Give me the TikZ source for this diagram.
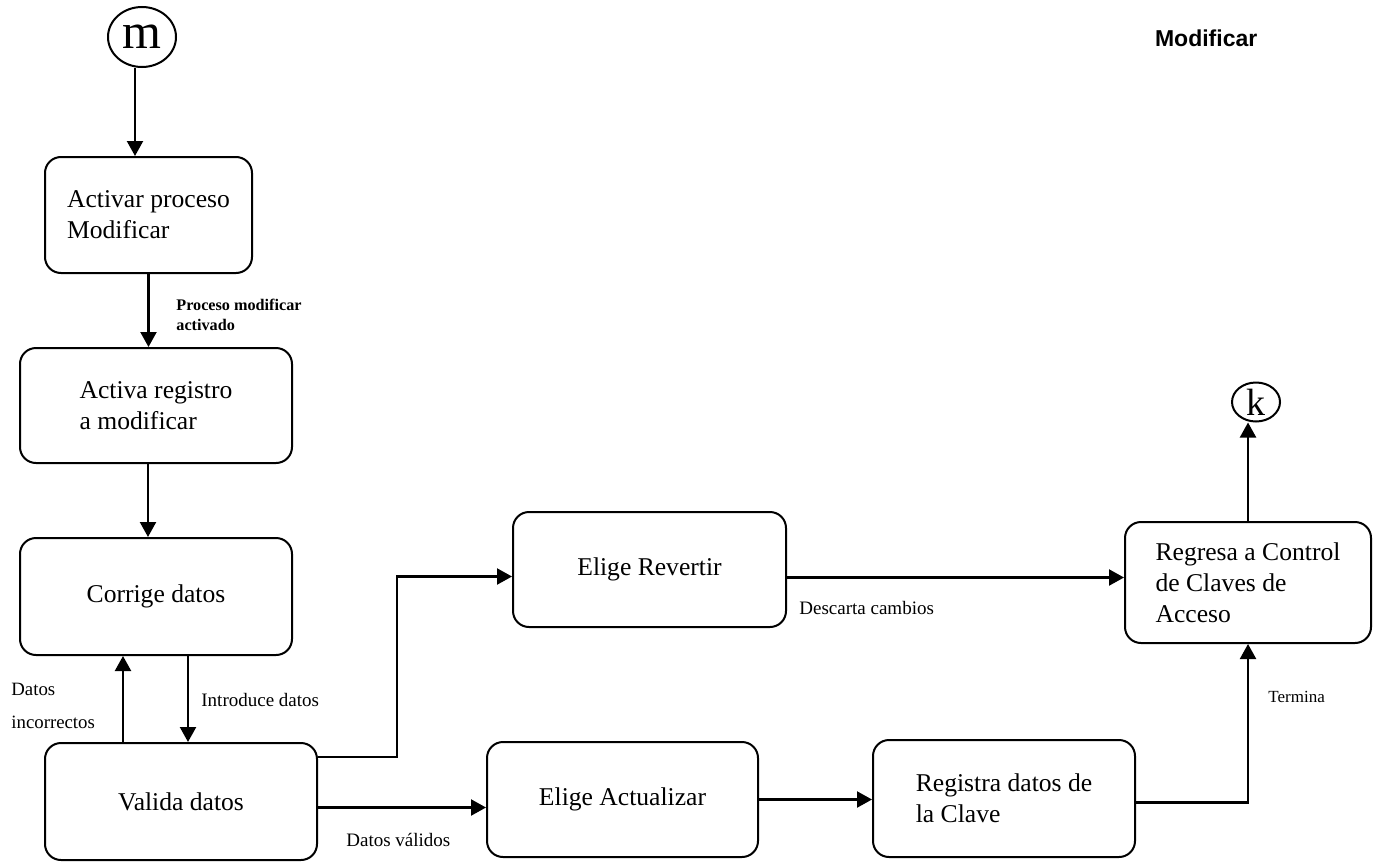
\documentclass[tikz,border=0pt]{standalone}
\usepackage{fontspec}
\setmainfont{Liberation Serif}
\newfontfamily\titlefont{Liberation Sans}
\usetikzlibrary{arrows.meta,positioning,shapes.geometric}

\begin{document}
\begin{tikzpicture}[x=0.5pt, y=-0.5pt,
  box/.style={draw, line width=1pt, rounded corners=8pt, align=left,
    font=\fontsize{12.8}{15.5}\selectfont},
  term/.style={draw, ellipse, line width=1pt, inner sep=0pt},
  conn/.style={line width=1.1pt, -{Triangle[length=7.5pt,width=8pt]}},
  lbl/.style={anchor=west, align=left, inner sep=0pt, font=\fontsize{9.5}{11}\selectfont}]
\useasboundingbox (0,0) rectangle (1390,862);
% Title
\node[anchor=west, font=\titlefont\bfseries\fontsize{11.5}{13}\selectfont] (title) at (1148,38) {Modificar};
% Connectors (entry and exit)
\node[term, minimum width=34pt, minimum height=30pt, font=\fontsize{25}{25}\selectfont] (m) at (142,37) {m};
\node[term, minimum width=24pt, minimum height=19.5pt, font=\fontsize{19}{19}\selectfont] (k) at (1256,402) {k};
% Left column
\node[box, minimum width=103.5pt, minimum height=58pt] (act) at (148.5,215) {Activar proceso\\Modificar};
\node[box, minimum width=136pt, minimum height=57.5pt] (reg) at (156,405.5) {Activa registro\\a modificar};
\node[box, minimum width=136pt, minimum height=58.5pt] (cor) at (156,596.5) {Corrige datos};
\node[box, minimum width=136pt, minimum height=58.5pt] (val) at (181,801.5) {Valida datos};
% Middle and right
\node[box, minimum width=136.5pt, minimum height=57.5pt] (rev) at (649.5,569.5) {Elige Revertir};
\node[box, minimum width=135.5pt, minimum height=57.5pt] (actz) at (622.5,799.5) {Elige Actualizar};
\node[box, minimum width=131pt, minimum height=58.5pt] (regd) at (1004,798.5) {Registra datos de\\la Clave};
\node[box, minimum width=123pt, minimum height=60.5pt] (ctl) at (1248,582.5) {Regresa a Control\\de Claves de\\Acceso};
\coordinate (split) at (397,757);
% Flow
\draw[conn] ([xshift=-3.5pt]m.south) -- ([xshift=-3.5pt]m.south |- act.north);
\draw[conn] (act.south) -- (act.south |- reg.north);
\draw[conn] ([xshift=-4pt]reg.south) -- ([xshift=-4pt]cor.north);
\draw[conn] ([xshift=-29pt]val.north) -- ([xshift=-29pt]val.north |- cor.south);
\draw[conn] ([xshift=16pt]cor.south) -- ([xshift=16pt]cor.south |- val.north);
\draw[conn] (split -| val.east) -- (split) |- ([yshift=-3.5pt]rev.west);
\draw[conn] ([yshift=-3pt]val.east) -- ([yshift=-3pt]val.east -| actz.west);
\draw[conn] ([yshift=-4pt]rev.east) -- ([yshift=-4pt]rev.east -| ctl.west);
\draw[conn] (actz.east) -- (actz.east -| regd.west);
\draw[conn] ([yshift=-2pt]regd.east) -| (ctl.south);
\draw[conn] (ctl.north) -- (ctl.north |- k.south);
% Labels
\node[lbl, font=\bfseries\fontsize{8.1}{10}\selectfont] (lproc) at (176,315) {Proceso modificar\\activado};
\node[lbl, font=\fontsize{9.4}{16.5}\selectfont] (linc) at (11,706) {Datos\\incorrectos};
\node[lbl] (lintro) at (201,700) {Introduce datos};
\node[lbl] (lval) at (346,840) {Datos válidos};
\node[lbl] (ldesc) at (799,608) {Descarta cambios};
\node[lbl, font=\fontsize{8.5}{10}\selectfont] (lterm) at (1268,697) {Termina};
\end{tikzpicture}
\end{document}
